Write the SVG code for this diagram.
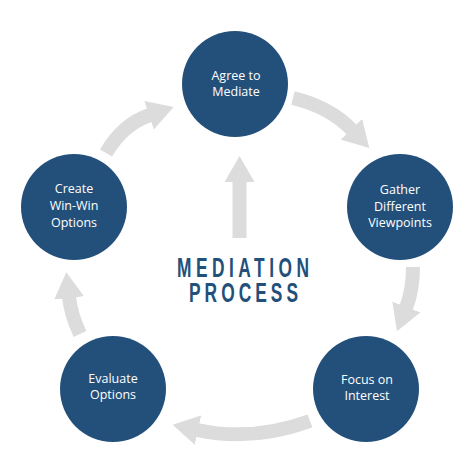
<svg xmlns="http://www.w3.org/2000/svg" width="474" height="474" viewBox="0 0 474 474">
<defs>
<marker id="head" markerUnits="userSpaceOnUse" markerWidth="26" markerHeight="30" viewBox="0 0 26 30" refX="1" refY="15" orient="auto">
<polygon points="0,0 26,15 0,30" fill="#dcdcdc"/>
</marker>
<style>
.node circle { fill: #23507a; }
.node text { fill: #ffffff; font-family: "Open Sans", "DejaVu Sans", sans-serif; font-size: 12.5px; text-anchor: middle; }
.conn path { fill: none; stroke: #dcdcdc; stroke-width: 14; marker-end: url(#head); }
.title { fill: #23507a; font-family: "Liberation Sans", Arial, sans-serif; font-weight: bold; font-size: 28px; text-anchor: middle; }
</style>
</defs>
<rect width="474" height="474" fill="#ffffff"/>
<g id="connectors" class="conn">
<path d="M293,98 Q330,107 352,130"/>
<path d="M413,267 Q413,290 406,308"/>
<path d="M310,421 Q252,442 197,430"/>
<path d="M80,334 Q71,315 69,297"/>
<path d="M106,153 Q123,124 150,115"/>
<path d="M239.5,238 L239.5,181"/>
</g>
<g id="node-agree" class="node">
<circle cx="235" cy="84" r="53"/>
<text x="236" y="80">Agree to</text>
<text x="236" y="96">Mediate</text>
</g>
<g id="node-gather" class="node">
<circle cx="400" cy="207" r="53"/>
<text x="400" y="194">Gather</text>
<text x="400" y="211">Different</text>
<text x="400" y="227">Viewpoints</text>
</g>
<g id="node-focus" class="node">
<circle cx="366" cy="389" r="53"/>
<text x="367" y="384">Focus on</text>
<text x="367" y="400">Interest</text>
</g>
<g id="node-evaluate" class="node">
<circle cx="113" cy="389" r="53"/>
<text x="113" y="383">Evaluate</text>
<text x="113" y="399">Options</text>
</g>
<g id="node-create" class="node">
<circle cx="74" cy="207" r="53"/>
<text x="74" y="193">Create</text>
<text x="74" y="210">Win-Win</text>
<text x="74" y="227">Options</text>
</g>
<g id="title">
<text class="title" transform="translate(243,277) scale(0.62,1)" x="0" y="0" textLength="213" lengthAdjust="spacing">MEDIATION</text>
<text class="title" transform="translate(243.5,302) scale(0.62,1)" x="0" y="0" textLength="176" lengthAdjust="spacing">PROCESS</text>
</g>
</svg>
